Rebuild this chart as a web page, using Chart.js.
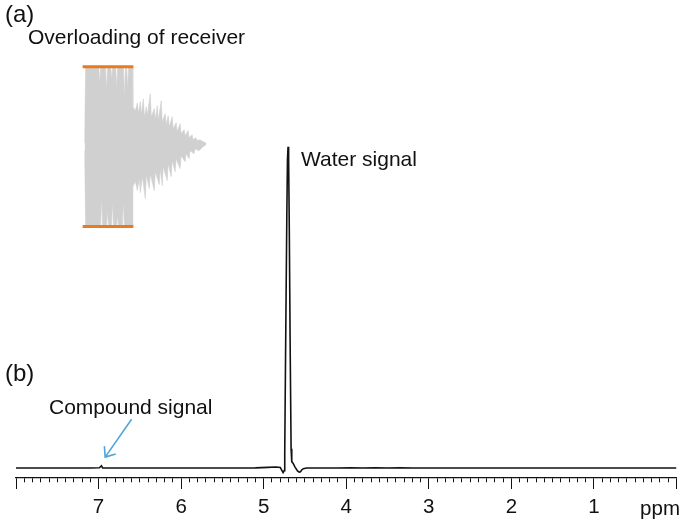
<!DOCTYPE html>
<html>
<head>
<meta charset="utf-8">
<script src="https://cdn.jsdelivr.net/npm/chart.js@4/dist/chart.umd.min.js"></script>
<style>
html, body { margin: 0; padding: 0; background: #fff; }
</style>
</head>
<body>
<canvas id="nmr" width="685" height="524"></canvas>
<script>
// (b) 1H spectrum: chemical shift (ppm) and intensity (water peak = 100)
const shiftPpm = [8.00, 7.40, 7.10, 6.99, 6.965, 6.95, 6.80, 6.00, 5.40, 5.10, 4.95, 4.85, 4.80,
  4.785, 4.765, 4.752, 4.745, 4.735, 4.72, 4.712, 4.705, 4.698, 4.69, 4.68, 4.668, 4.66, 4.645,
  4.62, 4.59, 4.57, 4.555, 4.54, 4.52, 4.48, 4.40, 4.10, 3.95, 3.80, 3.65, 3.50, 3.35, 3.20,
  3.00, 2.00, 1.00, 0.00];
const intensity = [0, 0, 0, 0.1, 0.7, 0, 0, 0, 0, 0.05, 0.2, 0.3, 0.2,
  -0.5, -1.4, -0.8, 5, 35, 78, 96, 100, 96, 75, 40, 6, 2.0, 1.5,
  0.3, -0.9, -1.3, -1.2, -0.6, -0.2, 0, 0, 0, 0.08, 0, 0.08, 0, 0.08, 0,
  0, 0, 0, 0];

// (a) FID envelope: time (points) and amplitude (ADC counts, receiver limit = 80)
const fidUpperT = [0, 1, 14.2, 15.2, 16.2, 21, 22, 23, 26.2, 27.2, 28.2, 31.2, 32.2, 33.2, 39, 40, 41,
  42.2, 43.2, 44.2, 48, 48.5, 51, 53, 54, 56, 57, 59, 60, 62, 63, 66, 67, 70, 71, 73, 74, 77, 78,
  81, 82, 84, 85, 88, 89, 92, 93, 96, 97, 100, 101, 104, 105, 108, 109, 112, 113, 116, 119, 122];
const fidUpperA = [4, 80, 80, 64, 80, 80, 56, 80, 80, 68, 80, 80, 58, 80, 80, 48, 80,
  80, 58, 80, 80, 40, 36, 44, 33, 45, 32, 48, 30, 40, 31, 53, 30, 38, 27, 41, 26, 46, 25,
  33, 22, 31, 20, 30, 18, 24, 15, 23, 13, 17, 11, 16, 9, 12, 7, 9, 6, 7, 5, 4];
const fidLowerT = [0, 1, 16, 17, 18, 22, 23, 24, 27, 28, 29, 32, 33, 34, 38, 39, 40,
  48, 48.5, 51, 53, 55, 56, 58, 61, 62, 65, 66, 70, 71, 75, 76, 78, 79, 83, 84,
  87, 88, 91, 92, 96, 97, 101, 102, 105, 106, 110, 111, 115, 119, 122];
const fidLowerA = [-4, -80, -80, -50, -80, -80, -64, -80, -80, -55, -80, -80, -69, -80, -80, -54, -80,
  -80, -40, -35, -44, -32, -46, -30, -52, -28, -42, -27, -44, -25, -38, -22, -39, -20, -34, -17,
  -30, -14, -25, -12, -22, -9, -15, -7, -12, -4, -7, -2, -4, 0, 2];
const clipT = [-2, 49];
const clipLevel = 80;

const tickLabels = ['1', '2', '3', '4', '5', '6', '7'];

const FONT = '"Liberation Sans", Arial, Helvetica, sans-serif';
Chart.defaults.font.family = FONT;
Chart.defaults.color = '#111';

const pts = (xs, ys) => xs.map((v, i) => ({ x: v, y: ys[i] }));

const isMajor = v => Math.abs(v - Math.round(v)) < 1e-6;

// text labels and the arrow
const panelText = {
  id: 'panelText',
  afterDraw(chart) {
    const c = chart.ctx;
    const xs = chart.scales.x, ys = chart.scales.y;
    c.save();
    c.fillStyle = '#111';
    c.textBaseline = 'alphabetic';
    c.textAlign = 'left';
    c.font = '24px ' + FONT;
    c.fillText('(a)', 5, 22);
    c.fillText('(b)', 5, 381);
    c.font = '21px ' + FONT;
    c.fillText('Overloading of receiver', 28, 43.5);
    c.fillText('Water signal', 301, 166);
    c.fillText('Compound signal', 49, 414);
    c.textAlign = 'right';
    c.font = '20.5px ' + FONT;
    c.fillText('ppm', 680, 515);

    const x0 = xs.getPixelForValue(6.60), y0 = ys.getPixelForValue(15.2);
    const x1 = xs.getPixelForValue(6.92), y1 = ys.getPixelForValue(3.4);
    const ang = Math.atan2(y0 - y1, x0 - x1);
    c.strokeStyle = '#4da6d9';
    c.lineWidth = 1.6;
    c.beginPath();
    c.moveTo(x0, y0);
    c.lineTo(x1, y1);
    c.moveTo(x1 + 11 * Math.cos(ang - 0.68), y1 + 11 * Math.sin(ang - 0.68));
    c.lineTo(x1, y1);
    c.lineTo(x1 + 11 * Math.cos(ang + 0.68), y1 + 11 * Math.sin(ang + 0.68));
    c.stroke();
    c.restore();
  }
};

new Chart(document.getElementById('nmr').getContext('2d'), {
  type: 'line',
  data: {
    datasets: [
      {
        data: pts(shiftPpm, intensity),
        borderColor: '#111', borderWidth: 1.6, pointRadius: 0, tension: 0,
        xAxisID: 'x', yAxisID: 'y', order: 0
      },
      {
        data: pts(fidUpperT, fidUpperA),
        borderColor: '#d0d0d0', borderWidth: 0.6,
        pointRadius: 0, tension: 0, fill: false,
        xAxisID: 'xf', yAxisID: 'yf', order: 2
      },
      {
        data: pts(fidLowerT, fidLowerA),
        borderColor: '#d0d0d0', backgroundColor: '#d0d0d0', borderWidth: 0.6,
        pointRadius: 0, tension: 0, fill: '-1',
        xAxisID: 'xf', yAxisID: 'yf', order: 2
      },
      {
        data: pts(clipT, clipT.map(() => clipLevel)),
        borderColor: '#e97a1f', borderWidth: 3, pointRadius: 0,
        xAxisID: 'xf', yAxisID: 'yf', order: 1
      },
      {
        data: pts(clipT, clipT.map(() => -clipLevel)),
        borderColor: '#e97a1f', borderWidth: 3, pointRadius: 0,
        xAxisID: 'xf', yAxisID: 'yf', order: 1
      }
    ]
  },
  options: {
    responsive: false,
    animation: false,
    layout: { padding: { left: 16, right: 5, top: 0, bottom: -2.5 } },
    plugins: {
      legend: { display: false },
      tooltip: { enabled: false }
    },
    scales: {
      x: {
        type: 'linear', position: 'bottom', reverse: true, min: 0, max: 8,
        border: { display: true, color: '#111', width: 1.3 },
        grid: {
          drawOnChartArea: false, drawTicks: true, tickLength: 11,
          tickColor: '#111', tickWidth: 1,
          tickBorderDash: ctx => (ctx.tick && isMajor(ctx.tick.value)) ? [] : [4, 30]
        },
        ticks: {
          stepSize: 0.1, autoSkip: false, maxRotation: 0, padding: 8.5,
          color: '#111', font: { size: 20.5, lineHeight: 1 },
          callback: v => {
            const r = Math.round(v * 10) / 10;
            return tickLabels.includes(String(r)) ? String(r) : '';
          }
        }
      },
      y: { display: false, min: -3.1, max: 145.65 },
      xf: { type: 'linear', display: false, min: -69, max: 595 },
      yf: { display: false, min: -332, max: 147 }
    }
  },
  plugins: [panelText]
});
</script>
</body>
</html>
